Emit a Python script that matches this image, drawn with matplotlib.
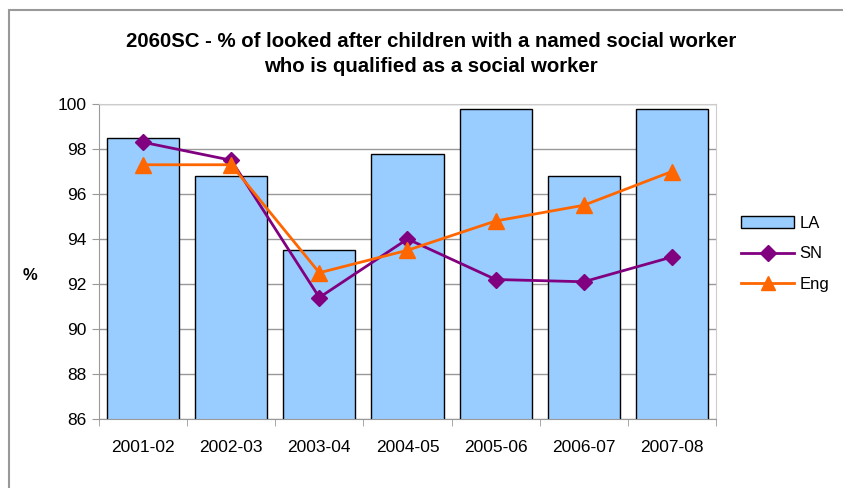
import matplotlib.pyplot as plt
import numpy as np
from matplotlib.patches import Rectangle

plt.rcParams['font.family'] = ['Liberation Sans', 'DejaVu Sans']

years = ['2001-02', '2002-03', '2003-04', '2004-05', '2005-06', '2006-07', '2007-08']
la = [98.5, 96.8, 93.5, 97.8, 99.8, 96.8, 99.8]
sn = [98.3, 97.5, 91.4, 94.0, 92.2, 92.1, 93.2]
eng = [97.3, 97.3, 92.5, 93.5, 94.8, 95.5, 97.0]

fig = plt.figure(figsize=(8.43, 4.88), dpi=100)
ax = fig.add_axes([99/843, 69/488, 617/843, 315/488])

x = np.arange(len(years))
b = ax.bar(x, la, width=0.82, color='#99CCFF', edgecolor='black',
           linewidth=1, label='LA', zorder=2)
l1, = ax.plot(x, sn, color='#800080', lw=2, marker='D', ms=8.5, label='SN', zorder=3)
l2, = ax.plot(x, eng, color='#FF6600', lw=2, marker='^', ms=11, label='Eng', zorder=4)

ax.set_ylim(86, 100)
ax.set_xlim(-0.5, len(years) - 0.5)
ax.set_yticks(np.arange(86, 101, 2))
ax.yaxis.grid(True, color='#999999', lw=1, zorder=0)
ax.set_axisbelow(True)

ax.set_xticks(x)
ax.set_xticklabels(years, fontsize=12.5)
ax.set_xticks(np.arange(-0.5, len(years), 1), minor=True)
ax.tick_params(axis='x', which='major', length=0, pad=15)
ax.tick_params(axis='x', which='minor', length=5, color='#999999')
ax.tick_params(axis='y', length=5, color='#999999', labelsize=12.5, pad=4)

for side in ['left', 'bottom']:
    ax.spines[side].set_color('#999999')
for side in ['top', 'right']:
    ax.spines[side].set_color('#cccccc')

fig.text(30/843, (488-275)/488, '%', fontsize=12,
         fontweight='bold', ha='center', va='center')

fig.text(431/843, (488-54)/488,
         '2060SC - % of looked after children with a named social worker\nwho is qualified as a social worker',
         fontsize=14.7, fontweight='bold', ha='center', va='center', linespacing=1.45)

leg = fig.legend([b, l1, l2], ['LA', 'SN', 'Eng'], loc='center left',
                 bbox_to_anchor=(741/843, (488-254)/488), frameon=False,
                 fontsize=12, handlelength=3.2, labelspacing=0.95,
                 handletextpad=0.3, borderpad=0, borderaxespad=0,
                 markerscale=0.9)

# chart border
fig.patches.append(Rectangle((9/843, -0.1), 1.1, (488-10)/488 + 0.1,
                             transform=fig.transFigure, fill=False,
                             edgecolor='#999999', lw=1.5))

fig.savefig('out.png', dpi=100)
